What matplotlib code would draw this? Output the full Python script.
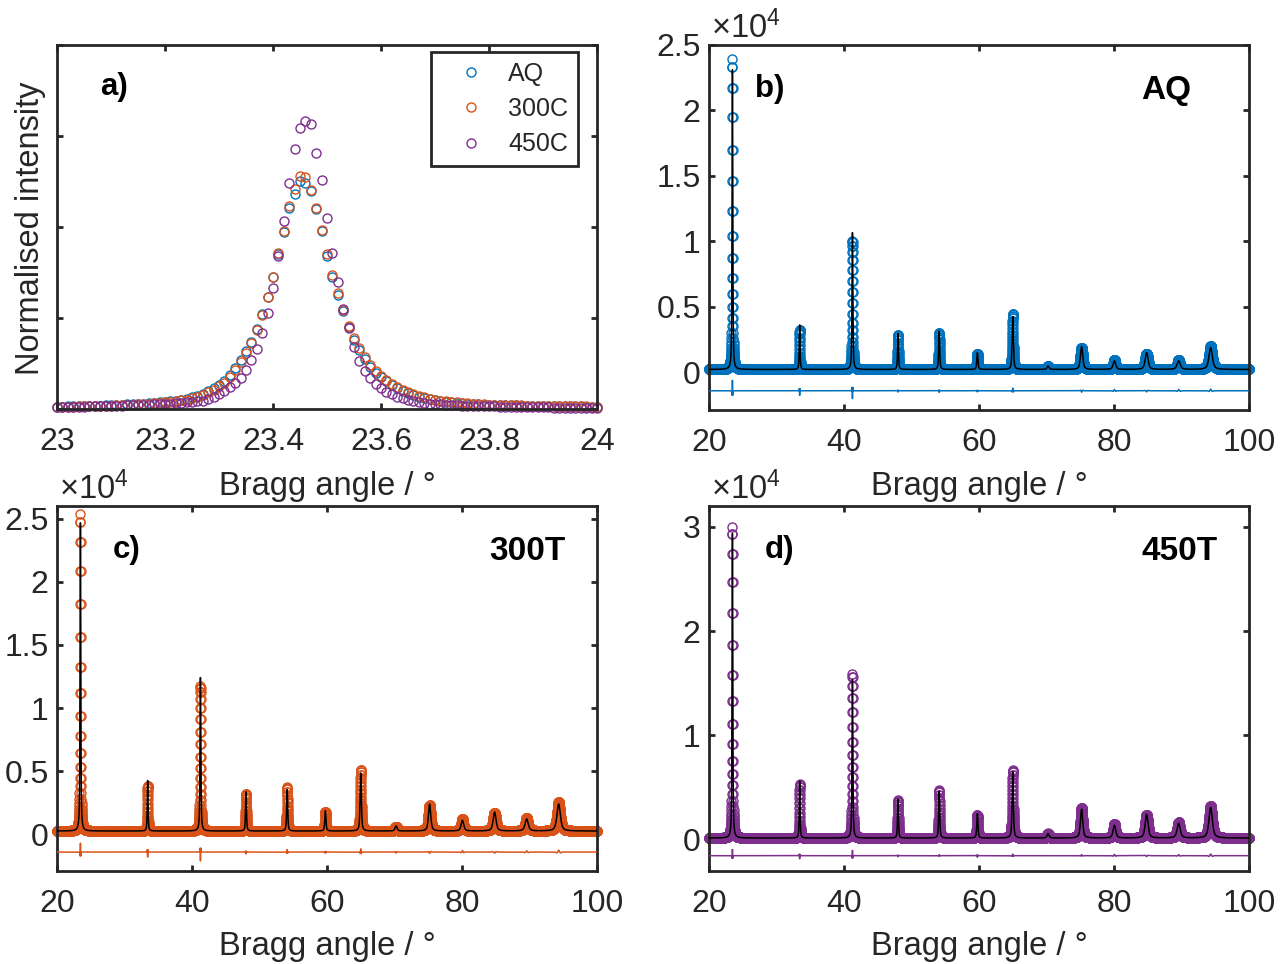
import numpy as np
import matplotlib
matplotlib.use("Agg")
import matplotlib.pyplot as plt
from matplotlib.ticker import FixedLocator, FuncFormatter

plt.rcParams['font.family'] = ['Liberation Sans', 'DejaVu Sans']
plt.rcParams['mathtext.fontset'] = 'custom'
plt.rcParams['mathtext.rm'] = 'Liberation Sans'
plt.rcParams['mathtext.it'] = 'Liberation Sans:italic'
plt.rcParams['mathtext.bf'] = 'Liberation Sans:bold'

INK = '#262626'
BLUE = '#0072BD'
ORANGE = '#D95319'
PURPLE = '#7E2F8E'

# ---------------------------------------------------------------- panel a
# Normalised (100) reflection, scanned 23.00 -> 24.00 deg in 0.01 deg steps
scan_start = 23.0
scan_step = 0.01
norm_AQ = [
    0.006, 0.006, 0.007, 0.007, 0.007, 0.008, 0.008, 0.009, 0.009, 0.010,
    0.010, 0.011, 0.012, 0.013, 0.013, 0.014, 0.015, 0.016, 0.017, 0.018,
    0.020, 0.021, 0.023, 0.025, 0.028, 0.033, 0.037, 0.042, 0.050, 0.057,
    0.066, 0.076, 0.094, 0.114, 0.134, 0.158, 0.185, 0.221, 0.261, 0.309,
    0.362, 0.426, 0.486, 0.552, 0.590, 0.627, 0.620, 0.598, 0.550, 0.490,
    0.421, 0.364, 0.314, 0.268, 0.224, 0.189, 0.162, 0.137, 0.116, 0.100,
    0.087, 0.076, 0.066, 0.058, 0.050, 0.044, 0.038, 0.034, 0.030, 0.027,
    0.024, 0.022, 0.020, 0.018, 0.017, 0.016, 0.015, 0.014, 0.013, 0.012,
    0.012, 0.011, 0.011, 0.010, 0.010, 0.010, 0.009, 0.009, 0.009, 0.008,
    0.008, 0.008, 0.008, 0.007, 0.007, 0.007, 0.007, 0.007, 0.006, 0.006, 0.006,
]
norm_300C = [
    0.005, 0.006, 0.006, 0.006, 0.007, 0.007, 0.008, 0.008, 0.008, 0.009,
    0.009, 0.010, 0.011, 0.011, 0.012, 0.013, 0.014, 0.015, 0.016, 0.017,
    0.018, 0.020, 0.022, 0.024, 0.026, 0.030, 0.034, 0.039, 0.046, 0.053,
    0.062, 0.072, 0.088, 0.108, 0.130, 0.153, 0.182, 0.218, 0.258, 0.307,
    0.362, 0.428, 0.488, 0.558, 0.605, 0.640, 0.636, 0.602, 0.552, 0.492,
    0.425, 0.368, 0.318, 0.272, 0.229, 0.194, 0.167, 0.142, 0.121, 0.104,
    0.090, 0.079, 0.069, 0.060, 0.053, 0.046, 0.040, 0.036, 0.032, 0.028,
    0.025, 0.023, 0.021, 0.019, 0.018, 0.017, 0.016, 0.015, 0.014, 0.013,
    0.012, 0.012, 0.011, 0.011, 0.010, 0.010, 0.010, 0.009, 0.009, 0.009,
    0.008, 0.008, 0.008, 0.008, 0.007, 0.007, 0.007, 0.007, 0.007, 0.006, 0.006,
]
norm_450C = [
    0.005, 0.005, 0.005, 0.006, 0.006, 0.006, 0.007, 0.007, 0.007, 0.008,
    0.008, 0.009, 0.009, 0.010, 0.010, 0.011, 0.011, 0.012, 0.013, 0.014,
    0.014, 0.015, 0.016, 0.017, 0.018, 0.020, 0.021, 0.023, 0.027, 0.033,
    0.040, 0.050, 0.061, 0.072, 0.086, 0.107, 0.134, 0.164, 0.210, 0.265,
    0.333, 0.420, 0.517, 0.620, 0.714, 0.773, 0.791, 0.782, 0.703, 0.629,
    0.525, 0.429, 0.349, 0.276, 0.222, 0.171, 0.132, 0.105, 0.085, 0.068,
    0.057, 0.048, 0.040, 0.034, 0.029, 0.025, 0.022, 0.019, 0.017, 0.015,
    0.014, 0.013, 0.012, 0.011, 0.010, 0.009, 0.009, 0.008, 0.008, 0.007,
    0.007, 0.007, 0.006, 0.006, 0.006, 0.006, 0.005, 0.005, 0.005, 0.005,
    0.005, 0.005, 0.004, 0.004, 0.004, 0.004, 0.004, 0.004, 0.004, 0.004, 0.004,
]
series_a = [("AQ", norm_AQ, BLUE), ("300C", norm_300C, ORANGE), ("450C", norm_450C, PURPLE)]

# ---------------------------------------------------------------- panels b-d
# Full patterns 20 -> 100 deg, 0.01 deg steps; reflections of the cubic phase
scan_range = (20.0, 100.0)
peak_pos = [23.47, 33.43, 41.25, 48.0, 54.1, 59.76, 65.0, 70.23, 75.2, 80.06, 84.83, 89.58, 94.32]
peak_fwhm = [0.13, 0.14, 0.15, 0.16, 0.18, 0.20, 0.22, 0.35, 0.40, 0.45, 0.50, 0.55, 0.60]
pv_eta = 0.6

# observed peak heights above background (counts)
obs_AQ = [23700, 3050, 9850, 2650, 2800, 1200, 4250, 250, 1650, 750, 1200, 750, 1780]
obs_300T = [25100, 3600, 11450, 2950, 3480, 1500, 4850, 320, 2030, 970, 1420, 1050, 2290]
obs_450T = [29800, 5150, 15700, 3630, 4600, 2200, 6500, 430, 2860, 1330, 2200, 1500, 3080]
# misfit (observed - calculated) at each reflection
resid_AQ = [800, -350, -600, -100, -120, -80, 200, 0, -100, 100, -80, 100, 120]
resid_300T = [700, -400, -700, -150, 200, -100, 250, -80, -100, 120, -80, 100, 150]
resid_450T = [600, -300, 500, -100, 100, -150, 150, 0, 100, 120, -80, 100, 150]
background = {"AQ": 200, "300T": 265, "450T": 160}
diff_offset = {"AQ": -1430, "300T": -1400, "450T": -1530}
ylims = {"AQ": (-2900, 25000), "300T": (-2900, 26000), "450T": (-3000, 32000)}
yticks = {"AQ": [0, 5000, 10000, 15000, 20000, 25000],
          "300T": [0, 5000, 10000, 15000, 20000, 25000],
          "450T": [0, 10000, 20000, 30000]}


def profile(tt, heights, bg):
    y = np.full_like(tt, float(bg))
    for p, h, w in zip(peak_pos, heights, peak_fwhm):
        u = (tt - p) / (w / 2.0)
        y += h * (pv_eta / (1.0 + u ** 2) + (1 - pv_eta) * np.exp(-np.log(2) * u ** 2))
    return y


def misfit(tt, amps):
    r = np.zeros_like(tt)
    for p, a, w in zip(peak_pos, amps, peak_fwhm):
        u = (tt - p) / (0.35 * w)
        r += a * (1 - 2 * u ** 2) * np.exp(-u ** 2)
    return r


W, H = 1282, 964
fig = plt.figure(figsize=(W / 100, H / 100), dpi=100)


def px_axes(l, t, r, b):
    return fig.add_axes([l / W, 1 - b / H, (r - l) / W, (b - t) / H])


TICK_FS = 23
LABEL_FS = 23.5


def style(ax):
    for s in ax.spines.values():
        s.set_linewidth(2.0)
        s.set_color(INK)
    ax.tick_params(direction='in', length=4, width=2.0, top=True, right=True,
                   colors=INK, labelsize=TICK_FS)
    ax.tick_params(axis='x', pad=13)
    ax.tick_params(axis='y', pad=6)


fmt = FuncFormatter(lambda v, _: f"{v:g}")
fmt4 = FuncFormatter(lambda v, _: f"{v / 1e4:g}")

# ---- panel a
ax_a = px_axes(57, 45, 597, 409)
theta_a = scan_start + scan_step * np.arange(len(norm_AQ))
handles = []
for name, vals, col in series_a:
    h, = ax_a.plot(theta_a, vals, 'o', ms=6.5, mfc='none', mec=col, mew=1.0,
                   clip_on=False, label=name)
    handles.append(h)
ax_a.set_xlim(23, 24)
ax_a.set_ylim(0, 1)
ax_a.xaxis.set_major_locator(FixedLocator([23, 23.2, 23.4, 23.6, 23.8, 24]))
ax_a.xaxis.set_major_formatter(fmt)
ax_a.yaxis.set_major_locator(FixedLocator([0, 0.25, 0.5, 0.75, 1.0]))
ax_a.set_yticklabels([])
style(ax_a)
ax_a.text(0.08, 0.885, "a)", transform=ax_a.transAxes, fontsize=22.5, fontweight='bold',
          color='k', ha='left', va='center')
leg = ax_a.legend(handles=handles, loc='upper right', bbox_to_anchor=(0.965, 0.981),
                  borderaxespad=0, frameon=True, fancybox=False, framealpha=1,
                  edgecolor=INK, fontsize=18, handlelength=2.4, handletextpad=0.3,
                  borderpad=0.4, labelspacing=0.45, numpoints=1)
leg.get_frame().set_linewidth(2.0)
for t in leg.get_texts():
    t.set_color(INK)

# ---- panels b-d
panels = [
    ("b)", "AQ", obs_AQ, resid_AQ, BLUE, (709, 45, 1249, 410)),
    ("c)", "300T", obs_300T, resid_300T, ORANGE, (57, 506, 597, 871)),
    ("d)", "450T", obs_450T, resid_450T, PURPLE, (709, 506, 1249, 871)),
]
tt = np.round(np.arange(scan_range[0], scan_range[1] + 1e-9, 0.01), 2)
for letter, name, obs_h, res_a, col, box in panels:
    ax = px_axes(*box)
    bg = background[name]
    calc_h = [o - r for o, r in zip(obs_h, res_a)]
    calc = profile(tt, calc_h, bg)
    resid = misfit(tt, res_a)
    obs = calc + resid
    ax.plot(tt, obs, 'o', ms=6.5, mfc='none', mec=col, mew=1.0, clip_on=False, zorder=2)
    ax.plot(tt, calc, '-', color='k', lw=1.1, zorder=3)
    ax.plot(tt, diff_offset[name] + resid, '-', color=col, lw=1.1, zorder=3)
    ax.set_xlim(*scan_range)
    ax.set_ylim(*ylims[name])
    ax.xaxis.set_major_locator(FixedLocator([20, 40, 60, 80, 100]))
    ax.xaxis.set_major_formatter(fmt)
    ax.yaxis.set_major_locator(FixedLocator(yticks[name]))
    ax.yaxis.set_major_formatter(fmt4)
    style(ax)
    lx = 0.085 if letter == "b)" else 0.104
    ax.text(lx, 0.88, letter, transform=ax.transAxes, fontsize=22.5, fontweight='bold',
            color='k', ha='left', va='center')
    ax.text(0.80, 0.875, name, transform=ax.transAxes, fontsize=24, fontweight='bold',
            color='k', ha='left', va='center')
    ax.text(0.004, 1.0 + 7 / 365, r'$\times10^{4}$', transform=ax.transAxes,
            fontsize=23.5, color=INK, ha='left', va='baseline')

# axis titles
for cx, cy in [(327, 486), (979, 486), (327, 946), (979, 946)]:
    fig.text(cx / W, 1 - cy / H, "Bragg angle / °", fontsize=LABEL_FS, color=INK,
             ha='center', va='center')
fig.text(31 / W, 1 - 228 / H, "Normalised intensity", fontsize=LABEL_FS, color=INK,
         ha='center', va='center', rotation=90)

fig.savefig("out.png", dpi=100, facecolor='white')
